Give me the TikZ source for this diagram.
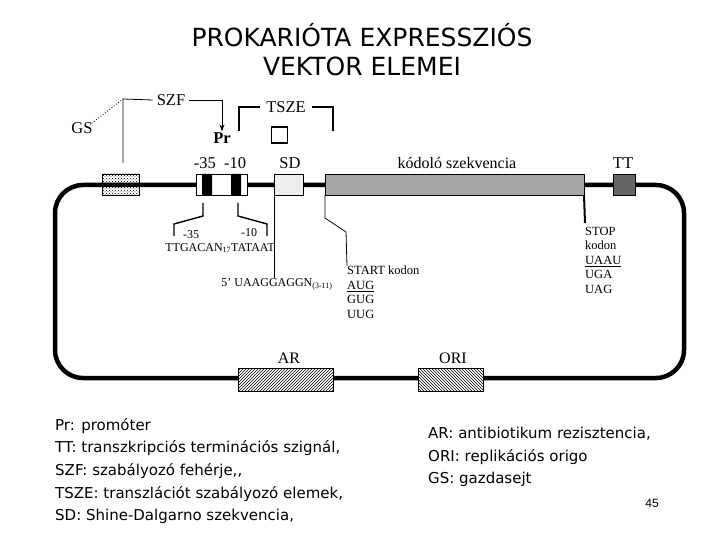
\documentclass[tikz,border=0pt]{standalone}
\usepackage{fontspec}
\setmainfont{Liberation Serif}
\newfontfamily\comicfont{DejaVu Sans}
\newfontfamily\pagefont{Liberation Sans}
\usetikzlibrary{arrows.meta,patterns,calc}

\begin{document}
\begin{tikzpicture}[x=1pt,y=-1pt,
  elem/.style={draw=black,line width=0.8pt,inner sep=0pt,outer sep=0pt,minimum height=21pt},
  lbl/.style={font=\fontsize{16.5}{16.5}\selectfont,inner sep=1pt},
  small/.style={font=\fontsize{12.5}{14.5}\selectfont,inner sep=0pt,align=left},
  legend/.style={font=\comicfont\fontsize{15}{22.6}\selectfont,inner sep=0pt,align=left,anchor=north west}]
\useasboundingbox (0,0) rectangle (720,540);
\node[font=\comicfont\fontsize{25}{29}\selectfont,align=center] (title) at (362,50) {PROKARIÓTA EXPRESSZIÓS\\VEKTOR ELEMEI};
\draw[line width=4.5pt,rounded corners=28pt] (55,185) rectangle (684,378);
\node[elem,minimum width=37pt,pattern=crosshatch dots] (gs) at (120.5,184.5) {};
\node[elem,minimum width=51pt,fill=white] (pr) at (221.5,184.5) {};
\fill (202,174) rectangle (212,195) (231,174) rectangle (241,195);
\node[elem,minimum width=29pt,fill=black!7] (sd) at (288.5,184.5) {};
\node[elem,minimum width=259pt,fill=black!35] (kod) at (454.5,184.5) {};
\node[elem,minimum width=22pt,fill=black!60] (tt) at (624,184.5) {};
\node[elem,minimum width=95pt,minimum height=23pt,fill=white] (ar) at (285.5,379.5) {};
\fill[pattern=north east lines] (ar.south west) rectangle (ar.north east);
\node[elem,minimum width=65pt,minimum height=23pt,fill=white] (ori) at (450.5,379.5) {};
\fill[pattern=north west lines] (ori.south west) rectangle (ori.north east);
\draw[line width=0.8pt] (ar.south west) rectangle (ar.north east) (ori.south west) rectangle (ori.north east);
\node[lbl,font=\fontsize{16}{16}\selectfont] (arl) at (289,358) {AR};
\node[lbl,font=\fontsize{16}{16}\selectfont] (oril) at (453,358) {ORI};
\node[lbl] (prpos) at (220,163) {-35\ \ -10};
\node[lbl] (sdl) at (290,163) {SD};
\node[lbl,font=\fontsize{16}{16}\selectfont] (kodl) at (457,163) {kódoló szekvencia};
\node[lbl] (ttl) at (623,163) {TT};
\node[lbl,inner sep=4pt] (szf) at (171,100) {SZF};
\node[lbl] (gsl) at (82,128) {GS};
\node[lbl,font=\bfseries\fontsize{16.5}{16.5}\selectfont] (prl) at (222,138) {Pr};
\node[lbl,inner sep=6pt] (tsze) at (286,107) {TSZE};
\node[draw,line width=1.6pt,minimum size=16pt,inner sep=0pt] (tbox) at (279.5,135) {};
\coordinate (szfc) at (123,99);
\draw[line width=0.8pt] ($(gs.north)+(2.5,-11)$) -- (szfc) -- (szf.west);
\draw[line width=0.8pt,-{Stealth[length=7pt,width=5pt]}] (szf.east) -| (prl.north);
\draw[dotted,line width=0.8pt] ($(gsl.north east)+(-2,2)$) -- (szfc);
\draw[line width=2pt] (tsze.west) -- (239,107) -- (239,131) (tsze.east) -- (333,107) -- (333,131);
\draw[line width=1.4pt] (203,203) -- (203,216) -- (174,224) -- (174,236) (238,203) -- (238,216) -- (267,224) -- (267,236);
\node[font=\fontsize{12}{12}\selectfont] (m35) at (191,235) {-35};
\node[font=\fontsize{12}{12}\selectfont] (m10) at (249,233) {-10};
\node[font=\fontsize{12}{12}\selectfont,inner sep=0pt] (prseq) at (220,248) {TTGACAN\textsubscript{17}TATAAT};
\node[font=\fontsize{12}{12}\selectfont,inner sep=0pt] (sdseq) at (277,284) {5’ UAAGGAGGN\textsubscript{(3-11)}};
\draw[line width=0.8pt] (sd.south west) -- (sdseq.north -| sd.south west);
\node[small,anchor=north west] (start) at (347,266) {START kodon\\\underline{AUG}\\GUG\\UUG};
\draw[line width=0.8pt] (kod.south west) -- (325,218) -- (346,232) -- (start.north west);
\node[small,anchor=north west] (stop) at (585,227) {STOP\\kodon\\\underline{UAAU}\\UGA\\UAG};
\draw[line width=2pt] (kod.south east) -- ($(stop.north west)+(0,-4)$);
\node[legend] (legl) at (55,418) {Pr: promóter\\TT: transzkripciós terminációs szignál,\\SZF: szabályozó fehérje,,\\TSZE: transzlációt szabályozó elemek,\\SD: Shine-Dalgarno szekvencia,};
\node[legend] (legr) at (428,427) {AR: antibiotikum rezisztencia,\\ORI: replikációs origo\\GS: gazdasejt};
\node[font=\pagefont\fontsize{12}{12}\selectfont] (page) at (652,503) {45};
\end{tikzpicture}
\end{document}
